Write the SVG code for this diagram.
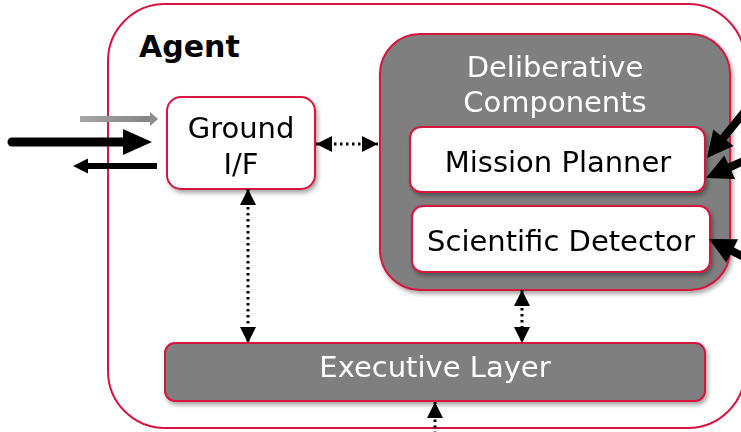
<svg xmlns="http://www.w3.org/2000/svg" width="741" height="432" viewBox="0 0 741 432">
  <defs>
    <filter id="shadow" x="-10%" y="-10%" width="130%" height="140%">
      <feDropShadow dx="2" dy="3" stdDeviation="2" flood-color="#000" flood-opacity="0.35"/>
    </filter>
    <linearGradient id="greyArrow" gradientUnits="userSpaceOnUse" x1="80" y1="0" x2="158" y2="0">
      <stop offset="0" stop-color="#a6a6a6"/>
      <stop offset="1" stop-color="#7f7f7f"/>
    </linearGradient>
    <marker id="tip" viewBox="0 0 16 16" refX="16" refY="8" markerWidth="16" markerHeight="16" markerUnits="userSpaceOnUse" orient="auto-start-reverse">
      <path d="M0,0 L16,8 L0,16 z" fill="#000"/>
    </marker>
  </defs>
  <style>
    .frame { fill: #fff; stroke: #d7133f; stroke-width: 2; }
    .dark { fill: #7f7f7f; stroke: #d7133f; stroke-width: 2; }
    .light { fill: #fff; stroke: #d7133f; stroke-width: 2; }
    .lbl { font-family: "DejaVu Sans", Verdana, sans-serif; font-size: 29px; text-anchor: middle; }
    .lbl-w { fill: #fff; }
    .lbl-k { fill: #000; }
    .title { font-family: "DejaVu Sans", Verdana, sans-serif; font-size: 30px; font-weight: bold; fill: #000; }
    .dots { stroke: #000; stroke-width: 3; stroke-dasharray: 2.5 3.5; fill: none; marker-start: url(#tip); marker-end: url(#tip); }
    .solid { stroke: #000; fill: none; }
  </style>

  <!-- Agent container -->
  <g id="agent">
    <rect class="frame" x="108" y="4" width="637" height="424" rx="57"/>
    <text class="title" x="139" y="57">Agent</text>
  </g>

  <!-- Deliberative components group -->
  <g id="deliberative" filter="url(#shadow)">
    <rect class="dark" x="380" y="34" width="350" height="256" rx="40"/>
    <text class="lbl lbl-w" x="555" y="77">Deliberative</text>
    <text class="lbl lbl-w" x="555" y="112">Components</text>
  </g>

  <g id="mission-planner" filter="url(#shadow)">
    <rect class="light" x="410" y="127" width="295" height="65" rx="11"/>
    <text class="lbl lbl-k" x="558" y="172">Mission Planner</text>
  </g>

  <g id="scientific-detector" filter="url(#shadow)">
    <rect class="light" x="412" y="206" width="298" height="66" rx="11"/>
    <text class="lbl lbl-k" x="561" y="251">Scientific Detector</text>
  </g>

  <g id="ground-if" filter="url(#shadow)">
    <rect class="light" x="167" y="97" width="148" height="92" rx="14"/>
    <text class="lbl lbl-k" x="241" y="138">Ground</text>
    <text class="lbl lbl-k" x="241" y="174">I/F</text>
  </g>

  <g id="executive-layer" filter="url(#shadow)">
    <rect class="dark" x="165" y="343" width="540" height="58" rx="10"/>
    <text class="lbl lbl-w" x="435" y="377">Executive Layer</text>
  </g>

  <!-- Connectors -->
  <g id="connectors">
    <!-- dotted two-way links -->
    <line class="dots" x1="248" y1="189" x2="248" y2="343"/>
    <line class="dots" x1="316" y1="144" x2="378" y2="144"/>
    <line class="dots" x1="522" y1="290" x2="522" y2="343"/>
    <!-- link entering the executive layer from below -->
    <line class="dots" x1="435" y1="440" x2="435" y2="402" style="marker-start: none"/>

    <!-- ground traffic on the left -->
    <line x1="80" y1="119" x2="151" y2="119" stroke="url(#greyArrow)" stroke-width="6"/>
    <path d="M150,112 L158,119 L150,126 z" fill="#8c8c8c"/>
    <line class="solid" x1="12" y1="142" x2="126" y2="142" stroke-width="9" stroke-linecap="round"/>
    <path d="M123,129 L152,142 L123,155 z" fill="#000"/>
    <line class="solid" x1="157" y1="166" x2="86" y2="166" stroke-width="6"/>
    <path d="M88,158.5 L73,166 L88,173.5 z" fill="#000"/>

    <!-- inputs on the right -->
    <line class="solid" x1="750" y1="105" x2="720" y2="142" stroke-width="8"/>
    <path d="M707,158 L713.3,129.5 L733.5,145.9 z" fill="#000"/>
    <line class="solid" x1="750" y1="158" x2="728" y2="168" stroke-width="8"/>
    <path d="M706,178 L724.3,155.4 L735.1,179 z" fill="#000"/>
    <line class="solid" x1="750" y1="260" x2="729" y2="249.5" stroke-width="8"/>
    <path d="M709,239 L738.1,239.3 L726.3,262.5 z" fill="#000"/>
  </g>
</svg>
